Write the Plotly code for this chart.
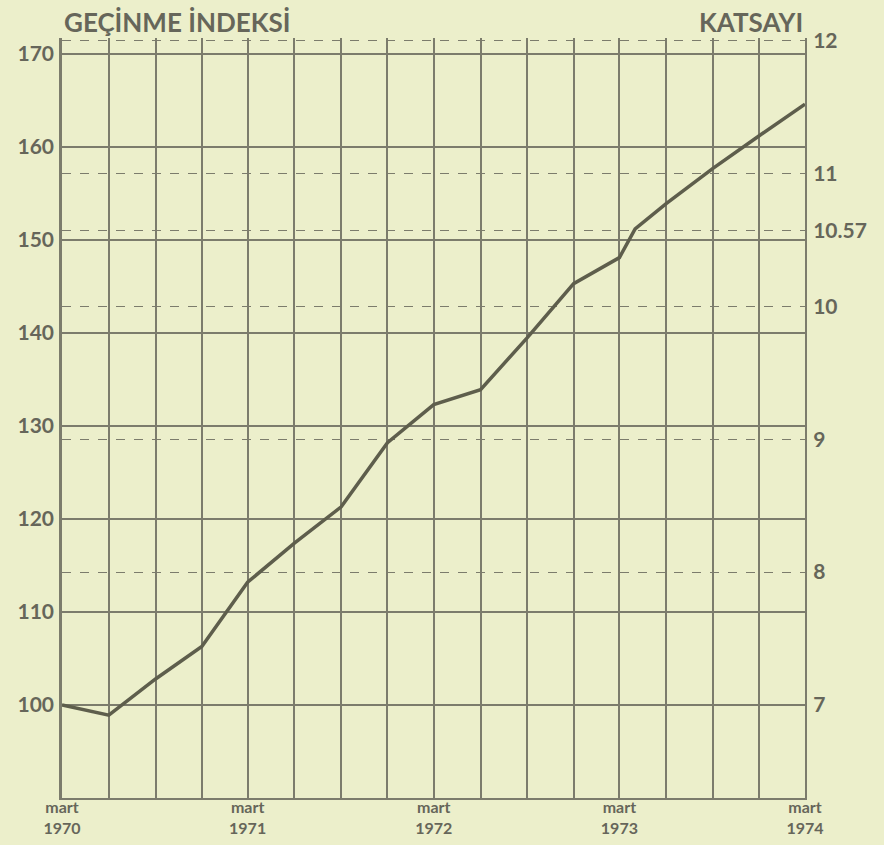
import plotly.graph_objects as go

# Data
months = ["1970-03-01", "1970-06-01", "1970-09-01", "1970-12-01",
          "1971-03-01", "1971-06-01", "1971-09-01", "1971-12-01",
          "1972-03-01", "1972-06-01", "1972-09-01", "1972-12-01",
          "1973-03-01", "1973-04-01", "1973-06-01", "1973-09-01",
          "1973-12-01", "1974-03-01"]
index_values = [100.0, 98.9, 102.8, 106.3,
                113.2, 117.4, 121.3, 128.2,
                132.3, 133.9, 139.5, 145.3,
                148.1, 151.2, 153.9, 157.7,
                161.2, 164.6]

left_ticks = [100, 110, 120, 130, 140, 150, 160, 170]
right_ticks = [7, 8, 9, 10, 10.57, 11, 12]
right_tick_text = ["7", "8", "9", "10", "10.57", "11", "12"]
x_tick_vals = ["1970-03-01", "1971-03-01", "1972-03-01", "1973-03-01", "1974-03-01"]
x_tick_text = ["mart<br>1970", "mart<br>1971", "mart<br>1972", "mart<br>1973", "mart<br>1974"]
factor = 0.07  # katsayı = indeks * 0.07

BG = "#ecefcb"
INK = "#66665a"
GRID = "#7c7c6c"
FONT = "Lato"

y_lo, y_hi = 90, 171.7143

fig = go.Figure()
fig.add_trace(go.Scatter(
    x=months, y=index_values, mode="lines",
    line=dict(color="#5e5e4c", width=3.5),
    hoverinfo="skip", showlegend=False, yaxis="y"))
# invisible trace to anchor the right axis
fig.add_trace(go.Scatter(
    x=[months[0]], y=[right_ticks[0]], mode="markers",
    marker=dict(opacity=0), hoverinfo="skip", showlegend=False, yaxis="y2"))

fig.update_layout(
    width=884, height=845,
    margin=dict(l=62, r=79, t=38, b=47),
    paper_bgcolor=BG, plot_bgcolor=BG,
    font=dict(family=FONT, color=INK),
    xaxis=dict(
        type="date", range=["1970-03-01", "1974-03-01"],
        tickvals=x_tick_vals, ticktext=x_tick_text,
        tickfont=dict(size=16, family=FONT, color=INK, weight="bold"),
        ticks="", showgrid=True, gridcolor=GRID, gridwidth=1.5,
        minor=dict(dtick="M3", tick0="1970-03-01", showgrid=True,
                   gridcolor=GRID, gridwidth=1.5, ticks=""),
        showline=True, linecolor=GRID, linewidth=2, mirror=False,
        zeroline=False, fixedrange=True, ticklabelstandoff=-6,
        automargin=False,
    ),
    yaxis=dict(
        range=[y_lo, y_hi], tickvals=left_ticks,
        ticktext=[str(v) for v in left_ticks],
        tickfont=dict(size=21, family=FONT, color=INK, weight="bold"),
        ticks="", showgrid=True, gridcolor=GRID, gridwidth=1.5,
        showline=True, linecolor=GRID, linewidth=2.5,
        zeroline=False, ticklabelstandoff=1, automargin=False,
    ),
    yaxis2=dict(
        overlaying="y", side="right",
        range=[y_lo * factor, y_hi * factor],
        tickvals=right_ticks, ticktext=right_tick_text,
        tickfont=dict(size=21, family=FONT, color=INK, weight="bold"),
        ticks="", showgrid=True, gridcolor=GRID, gridwidth=1.2, griddash="dash",
        showline=True, linecolor=GRID, linewidth=2,
        zeroline=False, ticklabelstandoff=2, automargin=False,
    ),
    annotations=[
        dict(text="GEÇİNME İNDEKSİ", xref="paper", yref="paper", x=0, y=1,
             xanchor="left", yanchor="middle", yshift=16, showarrow=False,
             font=dict(size=26, family=FONT, color=INK, weight="bold")),
        dict(text="KATSAYI", xref="paper", yref="paper", x=1, y=1,
             xanchor="right", yanchor="middle", yshift=16, showarrow=False,
             font=dict(size=26, family=FONT, color=INK, weight="bold")),
    ],
)

fig.write_html(
    "out.html",
    config={"displayModeBar": False},
    post_script="document.body.style.margin='0';document.body.style.background='#ecefcb';",
)
